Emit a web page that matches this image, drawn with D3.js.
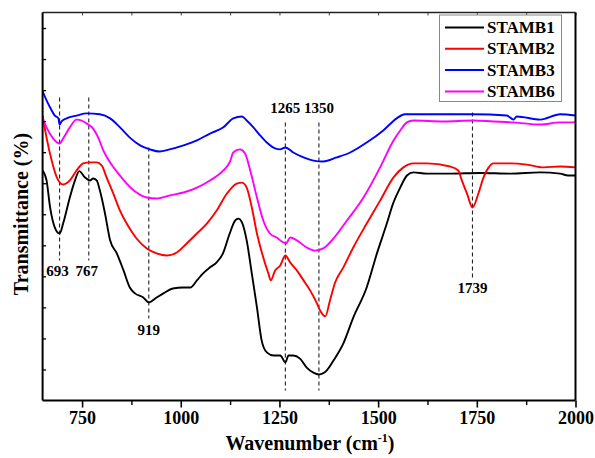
<!DOCTYPE html>
<html>
<head>
<meta charset="utf-8">
<script src="https://cdn.jsdelivr.net/npm/d3@7"></script>
<style>
  html, body { margin: 0; padding: 0; background: #fff; }
  svg { display: block; }
  text { font-family: "Liberation Serif", "Times New Roman", serif; font-weight: bold; fill: #000; }
</style>
</head>
<body>
<svg id="chart" width="595" height="458"></svg>
<script>
// FTIR spectra: [wavenumber (cm-1), transmittance (offset, arbitrary units)]
const stamb1 = [
  [650,74.1],[660,70.9],[669,62.2],[681,55.7],[693,53.8],[702,57.0],[719,65.4],[732,70.9],
  [743,73.9],[757,71.9],[770,70.9],[778,71.5],[787,70.9],[795,67.7],[808,60.3],[821,51.6],
  [838,47.4],[855,41.9],[871,36.4],[884,34.5],[905,33.2],[919,31.6],[939,33.2],[956,34.5],
  [980,36.1],[1006,36.4],[1024,36.4],[1041,38.7],[1056,40.9],[1074,42.9],[1091,44.5],
  [1107,47.4],[1124,53.8],[1138,58.0],[1146,58.6],[1155,57.4],[1167,51.6],[1180,40.9],
  [1193,30.0],[1205,19.3],[1218,15.5],[1235,14.5],[1252,14.5],[1265,12.3],[1273,14.5],
  [1285,14.5],[1302,13.5],[1319,10.6],[1336,9.0],[1350,8.4],[1370,9.7],[1387,12.9],
  [1412,18.4],[1437,26.7],[1471,36.4],[1497,47.4],[1522,57.0],[1538,63.5],[1556,68.6],
  [1573,72.5],[1589,73.5],[1623,73.1],[1682,73.1],[1758,73.3],[1836,73.1],[1910,73.5],
  [1961,73.1],[1981,72.5],[2000,72.5]
];
const stamb2 = [
  [650,91.8],[660,84.7],[673,77.3],[686,71.9],[702,69.6],[719,70.9],[736,74.1],[753,76.4],
  [770,76.7],[787,76.7],[800,75.7],[812,71.9],[829,66.7],[846,61.2],[863,57.0],[888,52.2],
  [914,49.0],[939,47.4],[965,46.7],[990,47.7],[1015,50.6],[1041,53.8],[1066,57.0],
  [1091,61.2],[1117,66.7],[1142,69.9],[1155,70.2],[1167,68.6],[1180,62.2],[1193,53.8],
  [1209,46.1],[1222,40.9],[1228,38.7],[1239,41.9],[1252,43.5],[1265,46.7],[1277,44.5],
  [1294,41.9],[1311,38.7],[1328,35.4],[1345,31.3],[1353,29.0],[1366,27.1],[1378,32.2],
  [1391,38.0],[1412,42.9],[1437,49.3],[1471,57.0],[1505,64.4],[1539,71.9],[1564,75.1],
  [1589,76.4],[1623,76.4],[1682,75.4],[1703,74.1],[1712,70.9],[1725,66.7],[1739,62.2],
  [1754,66.7],[1767,71.9],[1780,75.1],[1792,76.4],[1835,76.4],[1877,76.0],[1919,75.1],
  [1961,75.4],[2000,75.1]
];
const stamb3 = [
  [650,99.6],[660,96.7],[669,94.4],[681,91.8],[690,90.9],[693,88.9],[698,89.9],[711,90.9],
  [736,91.8],[762,92.5],[795,92.2],[821,90.9],[846,88.0],[871,84.7],[897,82.2],[922,80.9],
  [946,80.2],[972,80.9],[1007,82.2],[1041,83.8],[1074,86.0],[1108,88.0],[1133,90.9],
  [1155,91.5],[1167,90.2],[1184,88.0],[1201,85.4],[1218,83.1],[1239,81.2],[1252,80.9],
  [1265,81.5],[1285,79.9],[1311,78.3],[1336,77.3],[1361,77.0],[1395,78.3],[1429,79.9],
  [1471,83.1],[1513,87.0],[1547,90.9],[1568,92.2],[1623,92.2],[1741,92.2],[1826,91.8],
  [1843,90.5],[1851,91.5],[1911,90.5],[1961,92.2],[2000,91.8]
];
const stamb6 = [
  [650,90.9],[660,88.0],[677,84.4],[693,82.8],[702,84.4],[719,88.0],[736,90.5],[749,90.2],
  [762,89.2],[778,87.6],[791,84.7],[804,80.5],[821,76.7],[842,73.1],[863,69.9],[888,67.0],
  [914,65.4],[939,65.1],[973,66.1],[1007,67.0],[1041,68.6],[1074,70.9],[1108,74.1],
  [1125,77.0],[1133,79.9],[1150,80.9],[1163,79.6],[1176,74.1],[1193,65.4],[1209,58.0],
  [1226,53.8],[1243,52.5],[1260,50.9],[1267,50.6],[1277,52.5],[1294,51.6],[1319,49.3],
  [1340,48.3],[1361,49.0],[1387,52.2],[1421,58.0],[1463,65.4],[1505,75.1],[1539,83.8],
  [1556,87.0],[1573,89.6],[1589,90.2],[1666,89.9],[1741,90.2],[1792,89.9],[1843,89.6],
  [1911,88.9],[1961,89.6],[2000,89.6]
];

const seriesNames = ["STAMB1", "STAMB2", "STAMB3", "STAMB6"];
const seriesData = [stamb1, stamb2, stamb3, stamb6];
const seriesColors = ["#000000", "#ff0000", "#0000ff", "#ff00ff"];

// Marked band positions (cm-1) with the transmittance span of each guide line
const bandWn    = [693, 767, 919, 1265, 1350, 1739];
const bandTop   = [97.6, 97.6, 81.5, 89.6, 89.6, 92.8];
const bandBot   = [45.1, 45.1, 26.4, 3.2, 3.2, 39.3];
const bandLabelT = [41.6, 41.6, 22.6, 94.1, 94.1, 36.1];

const xMajorTicks = [750, 1000, 1250, 1500, 1750, 2000];
const xMinorTicks = [875, 1125, 1375, 1625, 1875];
const yTicks = [10, 20, 30, 40, 50, 60, 70, 80, 90, 100, 110, 120];

const svg = d3.select("#chart");
const pLeft = 42.6, pRight = 575.5, pTop = 12.5, pBottom = 400.5;

const x = d3.scaleLinear().domain([650, 2000]).range([pLeft, pRight]);
const y = d3.scaleLinear().domain([0, 125]).range([pBottom, pTop]);

const plot = svg.append("g");
plot.append("clipPath").attr("id", "clip")
  .append("rect").attr("x", pLeft).attr("y", pTop).attr("width", pRight - pLeft).attr("height", pBottom - pTop);

// guide lines for assigned bands
const guides = plot.append("g");
bandWn.forEach((wn, i) => {
  guides.append("line")
    .attr("x1", x(wn)).attr("x2", x(wn))
    .attr("y1", y(bandTop[i])).attr("y2", y(bandBot[i]))
    .attr("stroke", "#222").attr("stroke-width", 1.1)
    .attr("stroke-dasharray", "4,3");
  guides.append("text")
    .attr("x", x(wn) - (i < 2 ? 2 : 0)).attr("y", y(bandLabelT[i]))
    .attr("text-anchor", "middle").attr("dominant-baseline", "central")
    .attr("font-size", 15).text(wn);
});

// spectra
const line = d3.line().x(d => x(d[0])).y(d => y(d[1])).curve(d3.curveMonotoneX);
const curves = plot.append("g").attr("clip-path", "url(#clip)");
seriesData.forEach((data, i) => {
  curves.append("path").datum(data)
    .attr("d", line).attr("fill", "none")
    .attr("stroke", seriesColors[i]).attr("stroke-width", 1.9)
    .attr("stroke-linejoin", "round");
});

// bottom axis
const xAxis = svg.append("g").attr("transform", `translate(0,${pBottom})`)
  .call(d3.axisBottom(x).tickValues(xMajorTicks).tickSize(7).tickPadding(4).tickFormat(d3.format("d")));
xAxis.select(".domain").remove();
xAxis.selectAll(".tick line").attr("stroke-width", 1.6);
xAxis.selectAll(".tick text").attr("font-size", 18)
  .style("font-family", '"Liberation Serif", serif').style("font-weight", "bold");
const xMinor = svg.append("g").attr("transform", `translate(0,${pBottom})`)
  .call(d3.axisBottom(x).tickValues(xMinorTicks).tickSize(4.5).tickFormat(""));
xMinor.select(".domain").remove();
xMinor.selectAll(".tick line").attr("stroke-width", 1.4);

// top axis ticks (inward)
const xTop = svg.append("g").attr("transform", `translate(0,${pTop})`)
  .call(d3.axisBottom(x).tickValues(xMajorTicks.concat(xMinorTicks)).tickSize(3).tickFormat(""));
xTop.select(".domain").remove();
xTop.selectAll(".tick line").attr("stroke", "#444");

// left axis ticks (inward)
const yAxis = svg.append("g").attr("transform", `translate(${pLeft},0)`)
  .call(d3.axisRight(y).tickValues(yTicks).tickSize(3.5).tickFormat(""));
yAxis.select(".domain").remove();
yAxis.selectAll(".tick line").attr("stroke-width", 1.3);

// frame
svg.append("line").attr("x1", pLeft).attr("x2", pRight).attr("y1", pTop).attr("y2", pTop)
  .attr("stroke", "#222").attr("stroke-width", 1.4);
svg.append("line").attr("x1", pLeft).attr("x2", pRight).attr("y1", pBottom).attr("y2", pBottom)
  .attr("stroke", "#000").attr("stroke-width", 2);
svg.append("line").attr("x1", pLeft).attr("x2", pLeft).attr("y1", pTop).attr("y2", pBottom)
  .attr("stroke", "#000").attr("stroke-width", 2);
svg.append("line").attr("x1", pRight).attr("x2", pRight).attr("y1", pTop).attr("y2", pBottom)
  .attr("stroke", "#000").attr("stroke-width", 2);

// axis titles
const xt = svg.append("text").attr("x", 310).attr("y", 450)
  .attr("text-anchor", "middle").attr("font-size", 20);
xt.append("tspan").text("Wavenumber (cm");
xt.append("tspan").attr("font-size", 12).attr("dy", -8).text("-1");
xt.append("tspan").attr("dy", 8).text(")");

svg.append("text")
  .attr("transform", "translate(21,214) rotate(-90)")
  .attr("text-anchor", "middle").attr("dominant-baseline", "central")
  .attr("font-size", 20).text("Transmittance (%)");

// legend
const lg = svg.append("g");
lg.append("rect").attr("x", 439.5).attr("y", 15).attr("width", 122).attr("height", 86.5)
  .attr("fill", "#fff").attr("stroke", "#888").attr("stroke-width", 1);
seriesNames.forEach((name, i) => {
  const cy = 27.5 + i * 21.3;
  lg.append("line").attr("x1", 445).attr("x2", 484).attr("y1", cy).attr("y2", cy)
    .attr("stroke", seriesColors[i]).attr("stroke-width", 2);
  lg.append("text").attr("x", 487).attr("y", cy).attr("dominant-baseline", "central")
    .attr("font-size", 17).text(name);
});
</script>
</body>
</html>
